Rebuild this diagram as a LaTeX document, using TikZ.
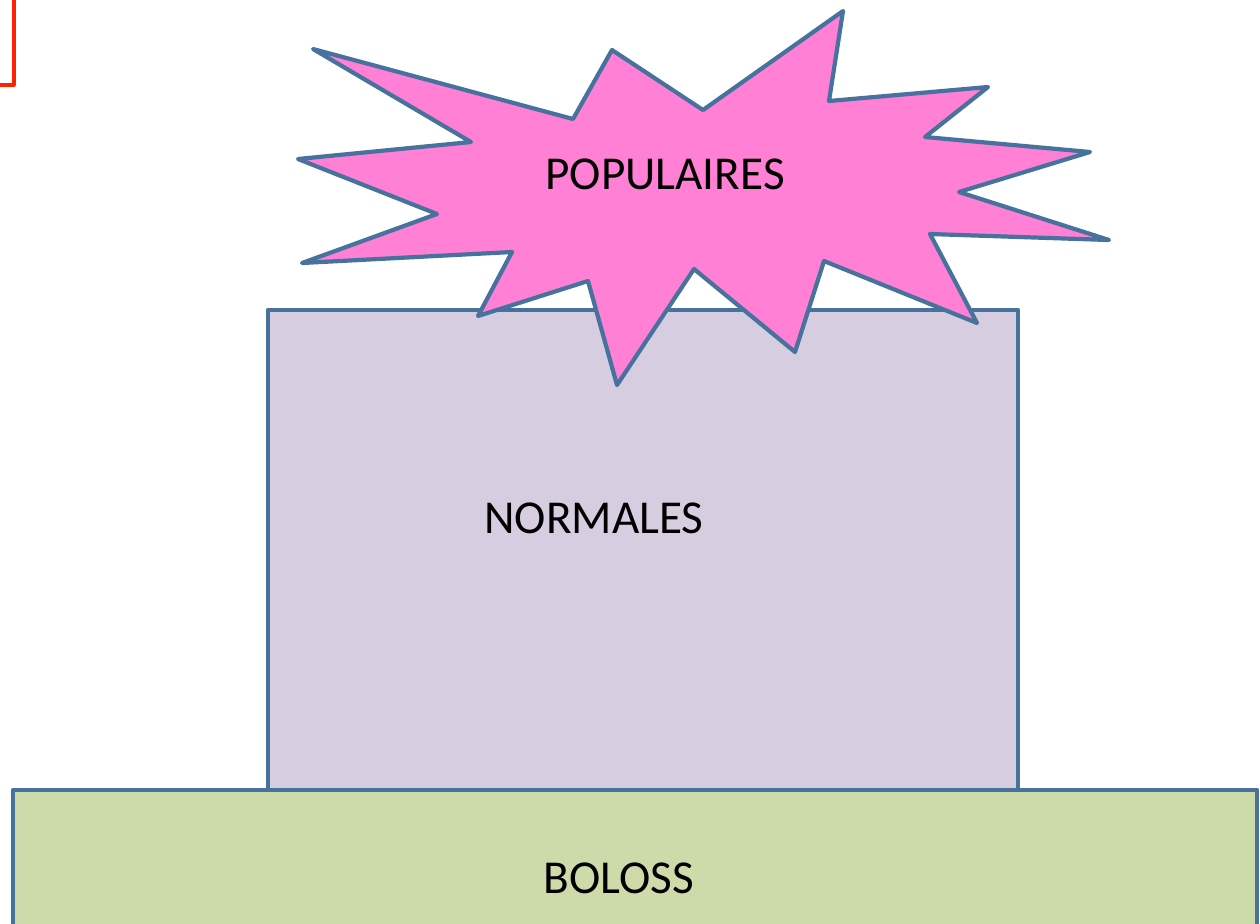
\documentclass[tikz,border=0pt]{standalone}
\usepackage{fontspec}
\setmainfont{Carlito}
\definecolor{bordure}{HTML}{46729D}
\definecolor{rose}{HTML}{FF80D4}
\definecolor{lavande}{HTML}{D7CDE1}
\definecolor{vert}{HTML}{CDDBAB}
\definecolor{rouge}{HTML}{FF2200}
\begin{document}
\begin{tikzpicture}[x=0.5pt, y=-0.5pt, line join=round]
\useasboundingbox (0,0) rectangle (1260,923);
% Красный уголок
\draw[rouge, line width=1.6pt] (14,0) -- (14,85) -- (0,85);

% Прямоугольники
\node (normales) [rectangle, draw=bordure, fill=lavande, line width=2.1pt, inner sep=0pt, minimum width=375pt, minimum height=240pt] at (643,550) {};
\node (boloss) [rectangle, draw=bordure, fill=vert, line width=2.1pt, inner sep=0pt, minimum width=622pt, minimum height=72.5pt] at (635,862.5) {};

% Звезда
\draw[bordure, fill=rose, line width=2.1pt] (313,49) -- (573,119) -- (612,50) -- (703,110) -- (843,11) -- (829,101) -- (988,87) -- (925,137) -- (1090,152) -- (959,192) -- (1109,240) -- (930,234) -- (977,323) -- (824,261) -- (795,352) -- (694,269) -- (617,385) -- (588,281) -- (478,316) -- (512,252) -- (302,263) -- (437,214) -- (298,159) -- (471,142) -- cycle;

% Подписи
\node (populaires) at (665,174) {\fontsize{23.6}{28}\selectfont POPULAIRES};
\node (normalestxt) at (594,518) {\fontsize{23.6}{28}\selectfont NORMALES};
\node (bolosstxt) at (619,878) {\fontsize{23.6}{28}\selectfont BOLOSS};

\end{tikzpicture}
\end{document}
